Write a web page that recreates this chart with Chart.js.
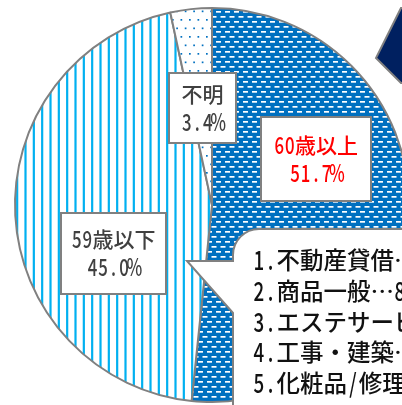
<!DOCTYPE html>
<html>
<head>
<meta charset="utf-8">
<script src="https://cdn.jsdelivr.net/npm/chart.js@4"></script>
<style>
  html, body { margin: 0; padding: 0; background: #ffffff; overflow: hidden; }
  #wrap { position: absolute; left: 0; top: 0; width: 430px; height: 410px; }
  canvas { display: block; }
</style>
</head>
<body>
<div id="wrap"><canvas id="c" width="430" height="410"></canvas></div>
<script>
// ---- data ----
const categories = ['60歳以上', '59歳以下', '不明'];
const values = [51.7, 45.0, 3.4];
const listItems = [
  '1.不動産貸借…',
  '2.商品一般…8',
  '3.エステサービス',
  '4.工事・建築…',
  '5.化粧品/修理'
];

// ---- styles ----
const FONT = '"Noto Sans CJK JP", "Noto Sans", sans-serif';
const BORDER = '#808080';
const BLUE = '#0070C0';
const CYAN = '#00B0F0';
const NAVY = '#002060';

function makePattern(w, h, draw) {
  const c = document.createElement('canvas');
  c.width = w; c.height = h;
  const g = c.getContext('2d');
  draw(g, w, h);
  return document.getElementById('c').getContext('2d').createPattern(c, 'repeat');
}
// horizontal white dashes on blue
const dashPattern = makePattern(9, 10, (g) => {
  g.fillStyle = BLUE; g.fillRect(0, 0, 9, 10);
  g.fillStyle = '#ffffff';
  g.fillRect(0, 1, 5, 1.7);
  g.fillRect(4.5, 6, 4.5, 1.7);
  g.fillRect(0, 6, 0.5, 1.7);
});
// vertical cyan stripes on white
const stripePattern = makePattern(25, 4, (g) => {
  g.fillStyle = '#ffffff'; g.fillRect(0, 0, 25, 4);
  g.fillStyle = CYAN;
  [0.5, 8.83, 17.17, 25.5].forEach(cx => g.fillRect(cx - 1.1, 0, 2.2, 4));
});
// blue dots on white
const dotPattern = makePattern(17, 17, (g) => {
  g.fillStyle = '#ffffff'; g.fillRect(0, 0, 17, 17);
  g.fillStyle = BLUE;
  [[2, 2], [10.5, 2], [6.25, 10.5], [14.75, 10.5]].forEach(p => g.fillRect(p[0], p[1], 1.7, 1.7));
});

// monospaced-like text: half-width chars in half cells (condensed, tall)
function isHalf(ch) { return ch.charCodeAt(0) < 0x2000; }
function monoWidth(text, em) {
  let w = 0;
  for (const ch of text) w += isHalf(ch) ? em / 2 : em;
  return w;
}
function drawMono(ctx, text, x, cy, em, color, align, weight) {
  const w = monoWidth(text, em);
  let cx = align === 'left' ? x : x - w / 2;
  ctx.save();
  ctx.fillStyle = color;
  ctx.font = (weight || 'normal') + ' ' + em + 'px ' + FONT;
  ctx.textAlign = 'center';
  ctx.textBaseline = 'middle';
  for (const ch of text) {
    const cw = isHalf(ch) ? em / 2 : em;
    ctx.save();
    ctx.translate(cx + cw / 2, cy);
    if (isHalf(ch)) ctx.scale(0.8, 1.12);
    ctx.fillText(ch, 0, 0);
    ctx.restore();
    cx += cw;
  }
  ctx.restore();
}

// label boxes (layout only)
const labelBoxes = [
  { x: 261, y: 117, w: 110, h: 84, color: '#FF0000' },   // 60歳以上
  { x: 61, y: 213, w: 105, h: 81, color: '#404040' },    // 59歳以下
  { x: 169, y: 73, w: 67, h: 70, color: '#404040' }      // 不明
];

const overlay = {
  id: 'overlay',
  afterDatasetsDraw(chart) {
    const ctx = chart.ctx;
    ctx.save();
    // labels
    labelBoxes.forEach((b, i) => {
      ctx.fillStyle = '#ffffff';
      ctx.fillRect(b.x, b.y, b.w, b.h);
      ctx.strokeStyle = BORDER; ctx.lineWidth = 2;
      ctx.strokeRect(b.x, b.y, b.w, b.h);
      const cx = b.x + b.w / 2, cy = b.y + b.h / 2;
      drawMono(ctx, categories[i], cx, cy - 14, 21, b.color, 'center', '500');
      drawMono(ctx, values[i].toFixed(1) + '%', cx, cy + 14, 21, b.color, 'center', '500');
    });
    // speech bubble
    const L = 233, T = 229, R = 450, B = 450, rad = 26;
    ctx.beginPath();
    ctx.moveTo(L, T + rad);
    ctx.arcTo(L, T, L + rad, T, rad);
    ctx.lineTo(R, T);
    ctx.lineTo(R, B);
    ctx.lineTo(L, B);
    ctx.lineTo(L, 313);
    ctx.lineTo(187, 261);
    ctx.lineTo(L, 261);
    ctx.closePath();
    ctx.fillStyle = '#ffffff'; ctx.fill();
    ctx.strokeStyle = BORDER; ctx.lineWidth = 2; ctx.stroke();
    listItems.forEach((t, i) => drawMono(ctx, t, 253, 260 + i * 30.8, 23.5, '#111111', 'left', '500'));
    // navy pointer at top right
    ctx.beginPath();
    ctx.moveTo(401, 8);
    ctx.lineTo(376, 58);
    ctx.lineTo(401, 83);
    ctx.lineTo(440, 83);
    ctx.lineTo(440, 8);
    ctx.closePath();
    ctx.fillStyle = NAVY; ctx.fill();
    ctx.strokeStyle = BORDER; ctx.lineWidth = 2; ctx.stroke();
    ctx.restore();
  }
};

new Chart(document.getElementById('c'), {
  type: 'pie',
  data: {
    labels: categories,
    datasets: [{
      data: values,
      backgroundColor: [dashPattern, stripePattern, dotPattern],
      borderColor: BORDER,
      borderWidth: 2
    }]
  },
  options: {
    responsive: false,
    animation: false,
    devicePixelRatio: 1,
    rotation: 0,
    layout: { padding: { left: 14, top: 7, right: 20, bottom: 7 } },
    plugins: { legend: { display: false }, tooltip: { enabled: false } }
  },
  plugins: [overlay]
});
</script>
</body>
</html>
